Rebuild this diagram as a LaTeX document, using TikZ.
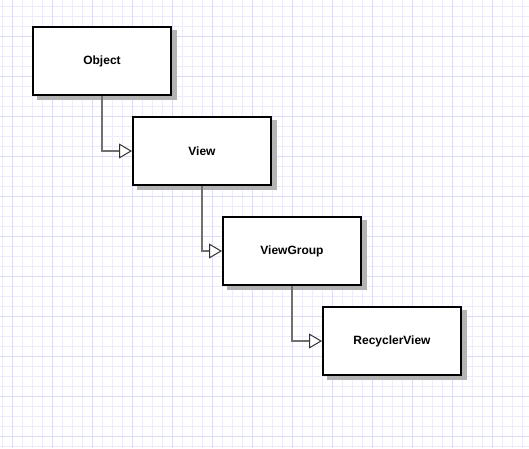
\documentclass[tikz,border=0pt]{standalone}
\usepackage{fontspec}
\setmainfont{Liberation Sans}
\usetikzlibrary{arrows.meta,backgrounds}
\definecolor{gridminor}{HTML}{ECECFB}
\definecolor{gridmajor}{HTML}{DCDCF7}
\definecolor{shadowgray}{HTML}{B3B3B3}
\definecolor{conngray}{HTML}{707070}
\begin{document}
\begin{tikzpicture}[x=1pt,y=-1pt,
  minorline/.style={draw=gridminor,line width=1pt},
  majorline/.style={draw=gridmajor,line width=1pt},
  classbox/.style={draw=black,line width=2pt,fill=white,minimum width=138pt,minimum height=68pt,
    font=\bfseries\fontsize{12}{14}\selectfont,inner sep=0pt},
  boxshadow/.style={fill=shadowgray},
  inherit/.style={draw=conngray,line width=1.6pt,
    -{Triangle[length=13pt,width=15pt,fill=white,line width=1pt,color=black!80]}}
]
\useasboundingbox (0,0) rectangle (529,448);

\node[classbox] (obj) at (102,61) {Object};
\node[classbox] (view) at (202,151) {View};
\node[classbox] (vg) at (292,251) {ViewGroup};
\node[classbox] (rv) at (392,341) {RecyclerView};

\begin{scope}[on background layer]
\fill[white] (0,0) rectangle (529,448);
\foreach \x in {2,12,...,522} \draw[minorline] (\x,0) -- (\x,448);
\foreach \y in {6,16,...,446} \draw[minorline] (0,\y) -- (529,\y);
\foreach \x in {12,52,...,522} \draw[majorline] (\x,0) -- (\x,448);
\foreach \y in {36,76,...,446} \draw[majorline] (0,\y) -- (529,\y);
\foreach \n in {obj,view,vg,rv}
  \fill[boxshadow] ([shift={(5pt,-4pt)}]\n.north west) rectangle ([shift={(5pt,-4pt)}]\n.south east);
\end{scope}

\draw[inherit] (obj.south) |- (view.west);
\draw[inherit] (view.south) |- (vg.west);
\draw[inherit] (vg.south) |- (rv.west);
\end{tikzpicture}
\end{document}
